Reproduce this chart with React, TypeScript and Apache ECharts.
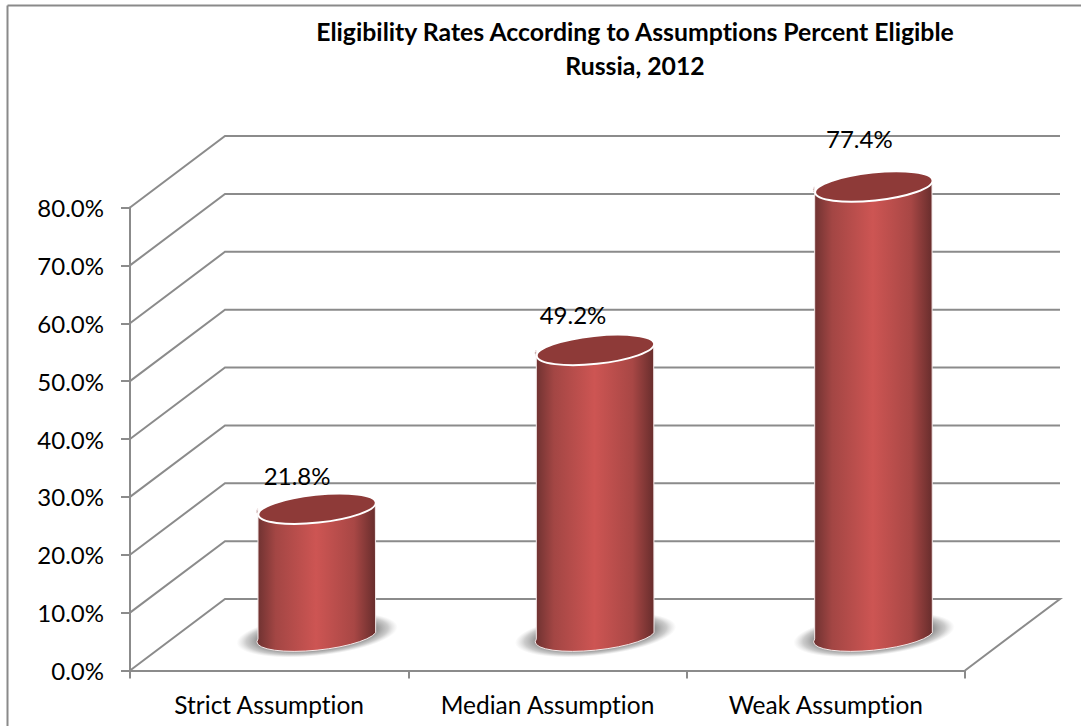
import React, { useEffect, useRef } from "react";
import * as echarts from "echarts";

const categories = ["Strict Assumption", "Median Assumption", "Weak Assumption"];
const eligibility = [21.8, 49.2, 77.4];
const gridTicks = [0, 10, 20, 30, 40, 50, 60, 70, 80];
const titleLines = ["Eligibility Rates According to Assumptions Percent Eligible", "Russia, 2012"];

const FONT = "Lato, Carlito, Calibri, sans-serif";
const LINE = "#8b8b8b";
const DEPTH_X = 95;
const DEPTH_Y = 71.5;
const BASE_LIFT = 2;
const TILT = (6 * Math.PI) / 180;
const RX = 59;
const RY = 14;
const LABEL_SHIFT = [[-19.5, -33], [-22, -36], [-14, -48]];

export default function App() {
  const ref = useRef<HTMLDivElement>(null);
  useEffect(() => {
    const chart = echarts.init(ref.current!, null, { renderer: "svg" });

    const renderGrid = (params: any, api: any) => {
      const v = api.value(0);
      const cs = params.coordSys;
      const y = api.coord([0, v])[1];
      const x0 = cs.x;
      const x1 = cs.x + cs.width;
      const pts = [[x0, y], [x0 + DEPTH_X, y - DEPTH_Y], [x1 + DEPTH_X, y - DEPTH_Y]];
      if (v === 0) pts.push([x1, y]);
      return {
        type: "polyline",
        shape: { points: pts },
        style: { stroke: LINE, lineWidth: 2, fill: "none" },
      };
    };

    const renderCylinder = (params: any, api: any) => {
      const idx = api.value(0);
      const val = api.value(1);
      const base = api.coord([idx, 0]);
      const top = api.coord([idx, val]);
      const cx = base[0] + DEPTH_X / 2;
      const by = base[1] - DEPTH_Y / 2 - BASE_LIFT;
      const ty = top[1] - DEPTH_Y / 2;
      const dx = RX * Math.cos(TILT);
      const dy = RX * Math.sin(TILT);
      const deg = -6;
      const d =
        `M ${cx - dx} ${ty + dy} L ${cx - dx} ${by + dy} ` +
        `A ${RX} ${RY} ${deg} 0 0 ${cx + dx} ${by - dy} ` +
        `L ${cx + dx} ${ty - dy} ` +
        `A ${RX} ${RY} ${deg} 0 1 ${cx - dx} ${ty + dy} Z`;
      const shift = LABEL_SHIFT[idx];
      return {
        type: "group",
        children: [
          {
            type: "ellipse",
            shape: { cx, cy: by + 2, rx: 81, ry: 21 },
            rotation: TILT,
            originX: cx,
            originY: by + 2,
            style: {
              fill: new echarts.graphic.RadialGradient(0.5, 0.5, 0.5, [
                { offset: 0, color: "rgba(70,70,70,0.9)" },
                { offset: 0.7, color: "rgba(100,100,100,0.8)" },
                { offset: 0.88, color: "rgba(140,140,140,0.45)" },
                { offset: 1, color: "rgba(180,180,180,0)" },
              ]),
            },
          },
          {
            type: "path",
            shape: { pathData: d },
            style: {
              fill: new echarts.graphic.LinearGradient(0, 0, 1, 0, [
                { offset: 0, color: "#6c3130" },
                { offset: 0.16, color: "#a34644" },
                { offset: 0.5, color: "#cd5553" },
                { offset: 0.82, color: "#a84745" },
                { offset: 1, color: "#672d2c" },
              ]),
              stroke: "#f4e9e9",
              lineWidth: 1,
            },
          },
          {
            type: "ellipse",
            shape: { cx, cy: ty, rx: RX, ry: RY },
            rotation: TILT,
            originX: cx,
            originY: ty,
            style: { fill: "#8e3a38", stroke: "#ffffff", lineWidth: 2 },
          },
          {
            type: "text",
            x: cx + shift[0],
            y: ty + shift[1],
            style: {
              text: val.toFixed(1) + "%",
              fill: "#000000",
              font: `24px ${FONT}`,
              align: "center",
              verticalAlign: "middle",
            },
          },
        ],
      };
    };

    chart.setOption({
      animation: false,
      backgroundColor: "#ffffff",
      title: {
        text: titleLines.join("\n"),
        left: 630,
        top: 9,
        textAlign: "center",
        textStyle: { fontFamily: FONT, fontWeight: "bold", fontSize: 24.8, lineHeight: 34, color: "#000000" },
      },
      grid: { left: 130, right: 116, top: 207.5, bottom: 55.5 },
      xAxis: {
        type: "category",
        data: categories,
        axisLine: { lineStyle: { color: LINE, width: 2 } },
        axisTick: { show: true, length: 8, alignWithLabel: false, lineStyle: { color: LINE, width: 2 } },
        axisLabel: { color: "#000000", fontFamily: FONT, fontSize: 24.5, margin: 21, interval: 0 },
        splitLine: { show: false },
      },
      yAxis: {
        type: "value",
        min: 0,
        max: 80,
        interval: 10,
        axisLine: { show: true, lineStyle: { color: LINE, width: 2 } },
        axisTick: { show: true, length: 9, lineStyle: { color: LINE, width: 2 } },
        axisLabel: {
          color: "#000000",
          fontFamily: FONT,
          fontSize: 24,
          margin: 26,
          formatter: (v: number) => v.toFixed(1) + "%",
        },
        splitLine: { show: false },
      },
      graphic: [
        { type: "line", shape: { x1: 7.5, y1: 5.5, x2: 7.5, y2: 726 }, style: { stroke: "#8a8a8a", lineWidth: 2 } },
        { type: "line", shape: { x1: 7.5, y1: 5.5, x2: 1081, y2: 5.5 }, style: { stroke: "#8a8a8a", lineWidth: 2 } },
      ],
      series: [
        {
          type: "custom",
          name: "Grid",
          silent: true,
          z: 1,
          renderItem: renderGrid,
          encode: { y: 0 },
          data: gridTicks.map((t) => [t]),
        },
        {
          type: "custom",
          name: "Percent Eligible",
          z: 3,
          renderItem: renderCylinder,
          encode: { x: 0, y: 1 },
          data: eligibility.map((v, i) => [i, v]),
        },
      ],
    });
    return () => chart.dispose();
  }, []);
  return (
    <div
      ref={ref}
      style={{ position: "absolute", left: 0, top: 0, width: 1081, height: 726, fontVariantLigatures: "none" }}
    />
  );
}
